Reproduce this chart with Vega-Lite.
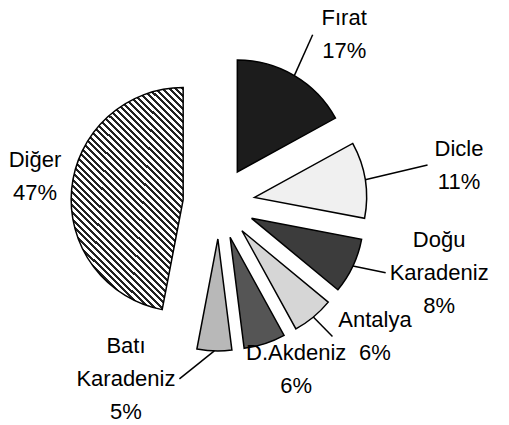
{
  "$schema": "https://vega.github.io/schema/vega-lite/v6.json",
  "width": 509,
  "height": 425,
  "autosize": "none",
  "padding": 0,
  "background": "white",
  "config": {"view": {"stroke": null}},
  "data": {
    "values": [
      {"region": "Fırat", "pct": 17},
      {"region": "Dicle", "pct": 11},
      {"region": "Doğu Karadeniz", "pct": 8},
      {"region": "Antalya", "pct": 6},
      {"region": "D.Akdeniz", "pct": 6},
      {"region": "Batı Karadeniz", "pct": 5},
      {"region": "Diğer", "pct": 47}
    ]
  },
  "transform": [
    {"window": [{"op": "sum", "field": "pct", "as": "cum"}], "frame": [null, 0]},
    {"calculate": "datum.cum - datum.pct", "as": "start"},
    {"calculate": "(datum.cum - datum.pct / 2) * PI / 50", "as": "mid"},
    {"calculate": "sin(datum.mid)", "as": "s"},
    {"calculate": "cos(datum.mid)", "as": "c"},
    {"calculate": "36 * datum.s", "as": "ex"},
    {"calculate": "36 * datum.c", "as": "ey"},
    {"calculate": "148 * datum.s", "as": "px"},
    {"calculate": "148 * datum.c", "as": "py"},
    {"calculate": "datum.s >= 0 ? 3 + 240 * datum.s : -90.1 + 94.3 * datum.s", "as": "lx"},
    {"calculate": "9 + 185 * datum.c", "as": "ly"},
    {"calculate": "indexof(datum.region, ' ') < 0 ? 2 : 3", "as": "nlines"},
    {"calculate": "datum.ly + (datum.nlines - 1) * 16.5", "as": "lyt"},
    {"calculate": "indexof(datum.region, ' ') < 0 ? length(datum.region) : max(indexof(datum.region, ' '), length(datum.region) - indexof(datum.region, ' ') - 1)", "as": "maxlen"},
    {"calculate": "datum.lx - (datum.s >= 0 ? 1 : -1) * (datum.maxlen * 5.5 + 4)", "as": "qx"},
    {"calculate": "replace(datum.region, ' ', '|') + '|' + datum.pct + '%'", "as": "label"}
  ],
  "encoding": {
    "x": {"type": "quantitative", "scale": {"domain": [-219, 290], "nice": false, "zero": false}, "axis": null},
    "y": {"type": "quantitative", "scale": {"domain": [-222, 203], "nice": false, "zero": false}, "axis": null}
  },
  "layer": [
    {
      "mark": {"type": "arc", "radius": 112, "stroke": "black", "strokeWidth": 1.5, "strokeJoin": "miter"},
      "encoding": {
        "theta": {"field": "start", "type": "quantitative", "stack": null, "scale": {"domain": [0, 100], "range": [0, 6.283185307]}},
        "theta2": {"field": "cum"},
        "x": {"field": "ex", "type": "quantitative"},
        "y": {"field": "ey", "type": "quantitative"},
        "color": {
          "condition": {
            "test": "datum.region === 'Diğer'",
            "value": {
              "gradient": "linear", "x1": 0.6, "y1": -0.2, "x2": 0, "y2": 1,
              "stops": [
                {"offset": 0.00, "color": "#222"}, {"offset": 0.009, "color": "#222"}, {"offset": 0.009, "color": "#fff"}, {"offset": 0.02, "color": "#fff"},
                {"offset": 0.02, "color": "#222"}, {"offset": 0.029, "color": "#222"}, {"offset": 0.029, "color": "#fff"}, {"offset": 0.04, "color": "#fff"},
                {"offset": 0.04, "color": "#222"}, {"offset": 0.049, "color": "#222"}, {"offset": 0.049, "color": "#fff"}, {"offset": 0.06, "color": "#fff"},
                {"offset": 0.06, "color": "#222"}, {"offset": 0.069, "color": "#222"}, {"offset": 0.069, "color": "#fff"}, {"offset": 0.08, "color": "#fff"},
                {"offset": 0.08, "color": "#222"}, {"offset": 0.089, "color": "#222"}, {"offset": 0.089, "color": "#fff"}, {"offset": 0.10, "color": "#fff"},
                {"offset": 0.10, "color": "#222"}, {"offset": 0.109, "color": "#222"}, {"offset": 0.109, "color": "#fff"}, {"offset": 0.12, "color": "#fff"},
                {"offset": 0.12, "color": "#222"}, {"offset": 0.129, "color": "#222"}, {"offset": 0.129, "color": "#fff"}, {"offset": 0.14, "color": "#fff"},
                {"offset": 0.14, "color": "#222"}, {"offset": 0.149, "color": "#222"}, {"offset": 0.149, "color": "#fff"}, {"offset": 0.16, "color": "#fff"},
                {"offset": 0.16, "color": "#222"}, {"offset": 0.169, "color": "#222"}, {"offset": 0.169, "color": "#fff"}, {"offset": 0.18, "color": "#fff"},
                {"offset": 0.18, "color": "#222"}, {"offset": 0.189, "color": "#222"}, {"offset": 0.189, "color": "#fff"}, {"offset": 0.20, "color": "#fff"},
                {"offset": 0.20, "color": "#222"}, {"offset": 0.209, "color": "#222"}, {"offset": 0.209, "color": "#fff"}, {"offset": 0.22, "color": "#fff"},
                {"offset": 0.22, "color": "#222"}, {"offset": 0.229, "color": "#222"}, {"offset": 0.229, "color": "#fff"}, {"offset": 0.24, "color": "#fff"},
                {"offset": 0.24, "color": "#222"}, {"offset": 0.249, "color": "#222"}, {"offset": 0.249, "color": "#fff"}, {"offset": 0.26, "color": "#fff"},
                {"offset": 0.26, "color": "#222"}, {"offset": 0.269, "color": "#222"}, {"offset": 0.269, "color": "#fff"}, {"offset": 0.28, "color": "#fff"},
                {"offset": 0.28, "color": "#222"}, {"offset": 0.289, "color": "#222"}, {"offset": 0.289, "color": "#fff"}, {"offset": 0.30, "color": "#fff"},
                {"offset": 0.30, "color": "#222"}, {"offset": 0.309, "color": "#222"}, {"offset": 0.309, "color": "#fff"}, {"offset": 0.32, "color": "#fff"},
                {"offset": 0.32, "color": "#222"}, {"offset": 0.329, "color": "#222"}, {"offset": 0.329, "color": "#fff"}, {"offset": 0.34, "color": "#fff"},
                {"offset": 0.34, "color": "#222"}, {"offset": 0.349, "color": "#222"}, {"offset": 0.349, "color": "#fff"}, {"offset": 0.36, "color": "#fff"},
                {"offset": 0.36, "color": "#222"}, {"offset": 0.369, "color": "#222"}, {"offset": 0.369, "color": "#fff"}, {"offset": 0.38, "color": "#fff"},
                {"offset": 0.38, "color": "#222"}, {"offset": 0.389, "color": "#222"}, {"offset": 0.389, "color": "#fff"}, {"offset": 0.40, "color": "#fff"},
                {"offset": 0.40, "color": "#222"}, {"offset": 0.409, "color": "#222"}, {"offset": 0.409, "color": "#fff"}, {"offset": 0.42, "color": "#fff"},
                {"offset": 0.42, "color": "#222"}, {"offset": 0.429, "color": "#222"}, {"offset": 0.429, "color": "#fff"}, {"offset": 0.44, "color": "#fff"},
                {"offset": 0.44, "color": "#222"}, {"offset": 0.449, "color": "#222"}, {"offset": 0.449, "color": "#fff"}, {"offset": 0.46, "color": "#fff"},
                {"offset": 0.46, "color": "#222"}, {"offset": 0.469, "color": "#222"}, {"offset": 0.469, "color": "#fff"}, {"offset": 0.48, "color": "#fff"},
                {"offset": 0.48, "color": "#222"}, {"offset": 0.489, "color": "#222"}, {"offset": 0.489, "color": "#fff"}, {"offset": 0.50, "color": "#fff"},
                {"offset": 0.50, "color": "#222"}, {"offset": 0.509, "color": "#222"}, {"offset": 0.509, "color": "#fff"}, {"offset": 0.52, "color": "#fff"},
                {"offset": 0.52, "color": "#222"}, {"offset": 0.529, "color": "#222"}, {"offset": 0.529, "color": "#fff"}, {"offset": 0.54, "color": "#fff"},
                {"offset": 0.54, "color": "#222"}, {"offset": 0.549, "color": "#222"}, {"offset": 0.549, "color": "#fff"}, {"offset": 0.56, "color": "#fff"},
                {"offset": 0.56, "color": "#222"}, {"offset": 0.569, "color": "#222"}, {"offset": 0.569, "color": "#fff"}, {"offset": 0.58, "color": "#fff"},
                {"offset": 0.58, "color": "#222"}, {"offset": 0.589, "color": "#222"}, {"offset": 0.589, "color": "#fff"}, {"offset": 0.60, "color": "#fff"},
                {"offset": 0.60, "color": "#222"}, {"offset": 0.609, "color": "#222"}, {"offset": 0.609, "color": "#fff"}, {"offset": 0.62, "color": "#fff"},
                {"offset": 0.62, "color": "#222"}, {"offset": 0.629, "color": "#222"}, {"offset": 0.629, "color": "#fff"}, {"offset": 0.64, "color": "#fff"},
                {"offset": 0.64, "color": "#222"}, {"offset": 0.649, "color": "#222"}, {"offset": 0.649, "color": "#fff"}, {"offset": 0.66, "color": "#fff"},
                {"offset": 0.66, "color": "#222"}, {"offset": 0.669, "color": "#222"}, {"offset": 0.669, "color": "#fff"}, {"offset": 0.68, "color": "#fff"},
                {"offset": 0.68, "color": "#222"}, {"offset": 0.689, "color": "#222"}, {"offset": 0.689, "color": "#fff"}, {"offset": 0.70, "color": "#fff"},
                {"offset": 0.70, "color": "#222"}, {"offset": 0.709, "color": "#222"}, {"offset": 0.709, "color": "#fff"}, {"offset": 0.72, "color": "#fff"},
                {"offset": 0.72, "color": "#222"}, {"offset": 0.729, "color": "#222"}, {"offset": 0.729, "color": "#fff"}, {"offset": 0.74, "color": "#fff"},
                {"offset": 0.74, "color": "#222"}, {"offset": 0.749, "color": "#222"}, {"offset": 0.749, "color": "#fff"}, {"offset": 0.76, "color": "#fff"},
                {"offset": 0.76, "color": "#222"}, {"offset": 0.769, "color": "#222"}, {"offset": 0.769, "color": "#fff"}, {"offset": 0.78, "color": "#fff"},
                {"offset": 0.78, "color": "#222"}, {"offset": 0.789, "color": "#222"}, {"offset": 0.789, "color": "#fff"}, {"offset": 0.80, "color": "#fff"},
                {"offset": 0.80, "color": "#222"}, {"offset": 0.809, "color": "#222"}, {"offset": 0.809, "color": "#fff"}, {"offset": 0.82, "color": "#fff"},
                {"offset": 0.82, "color": "#222"}, {"offset": 0.829, "color": "#222"}, {"offset": 0.829, "color": "#fff"}, {"offset": 0.84, "color": "#fff"},
                {"offset": 0.84, "color": "#222"}, {"offset": 0.849, "color": "#222"}, {"offset": 0.849, "color": "#fff"}, {"offset": 0.86, "color": "#fff"},
                {"offset": 0.86, "color": "#222"}, {"offset": 0.869, "color": "#222"}, {"offset": 0.869, "color": "#fff"}, {"offset": 0.88, "color": "#fff"},
                {"offset": 0.88, "color": "#222"}, {"offset": 0.889, "color": "#222"}, {"offset": 0.889, "color": "#fff"}, {"offset": 0.90, "color": "#fff"},
                {"offset": 0.90, "color": "#222"}, {"offset": 0.909, "color": "#222"}, {"offset": 0.909, "color": "#fff"}, {"offset": 0.92, "color": "#fff"},
                {"offset": 0.92, "color": "#222"}, {"offset": 0.929, "color": "#222"}, {"offset": 0.929, "color": "#fff"}, {"offset": 0.94, "color": "#fff"},
                {"offset": 0.94, "color": "#222"}, {"offset": 0.949, "color": "#222"}, {"offset": 0.949, "color": "#fff"}, {"offset": 0.96, "color": "#fff"},
                {"offset": 0.96, "color": "#222"}, {"offset": 0.969, "color": "#222"}, {"offset": 0.969, "color": "#fff"}, {"offset": 0.98, "color": "#fff"},
                {"offset": 0.98, "color": "#222"}, {"offset": 0.989, "color": "#222"}, {"offset": 0.989, "color": "#fff"}, {"offset": 1.00, "color": "#fff"}
              ]
            }
          },
          "field": "region",
          "type": "nominal",
          "legend": null,
          "scale": {
            "domain": ["Fırat", "Dicle", "Doğu Karadeniz", "Antalya", "D.Akdeniz", "Batı Karadeniz", "Diğer"],
            "range": ["#1c1c1c", "#f0f0f0", "#3c3c3c", "#d6d6d6", "#555555", "#b8b8b8", "#8c8c8c"]
          }
        }
      }
    },
    {
      "transform": [
        {"filter": "(datum.qx - datum.px) * (datum.s >= 0 ? 1 : -1) > 0 && sqrt(pow(datum.qx - datum.px, 2) + pow(datum.ly - datum.py, 2)) > 20"}
      ],
      "mark": {"type": "rule", "color": "black", "strokeWidth": 1.5},
      "encoding": {
        "x": {"field": "px", "type": "quantitative"},
        "y": {"field": "py", "type": "quantitative"},
        "x2": {"field": "qx"},
        "y2": {"field": "ly"}
      }
    },
    {
      "mark": {"type": "text", "align": "center", "baseline": "middle", "font": "Liberation Sans, Arial, sans-serif", "fontSize": 22, "lineHeight": 33, "lineBreak": "|", "color": "black"},
      "encoding": {
        "x": {"field": "lx", "type": "quantitative"},
        "y": {"field": "lyt", "type": "quantitative"},
        "text": {"field": "label"}
      }
    }
  ]
}
